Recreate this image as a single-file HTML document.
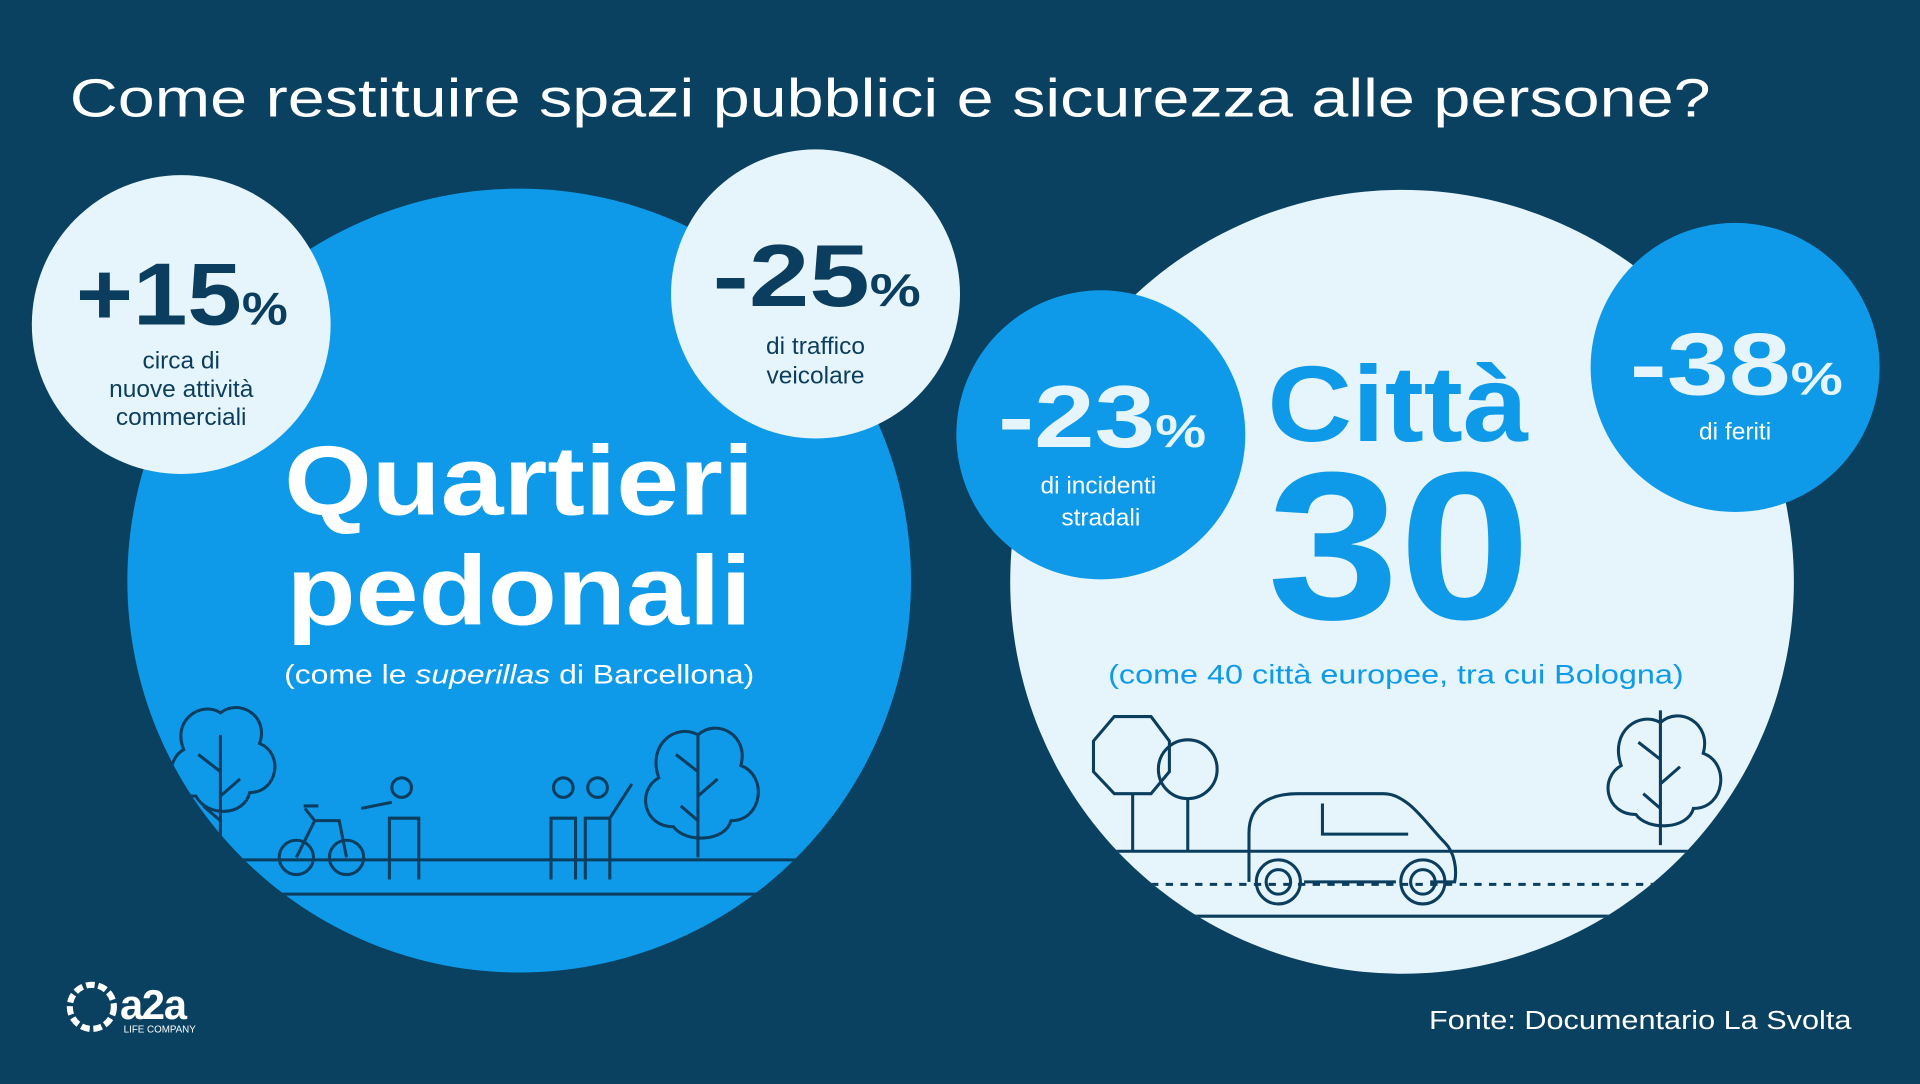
<!DOCTYPE html>
<html><head><meta charset="utf-8"><style>
html,body{margin:0;padding:0;background:#0a4060;}
svg{display:block;}
text{font-family:"Liberation Sans","DejaVu Sans",sans-serif;}
</style></head><body>
<svg width="1920" height="1084" viewBox="0 0 1568 885" preserveAspectRatio="none" xmlns="http://www.w3.org/2000/svg">
<defs>
<clipPath id="c1"><circle cx="424" cy="474" r="320"/></clipPath>
<clipPath id="c2"><circle cx="1145" cy="475" r="320"/></clipPath>
</defs>
<rect width="1568" height="885" fill="#0a4060"/>
<text x="57" y="95" font-size="44" fill="#fff" textLength="1340" lengthAdjust="spacingAndGlyphs">Come restituire spazi pubblici e sicurezza alle persone?</text>

<circle cx="424" cy="474" r="320" fill="#0e9ae9"/>
<g clip-path="url(#c1)" stroke="#0b3d5e" stroke-width="2.5" fill="none">
<line x1="100" y1="702" x2="750" y2="702"/>
<line x1="100" y1="730" x2="750" y2="730"/>
<path d="M180 700 V600 M180 630 l-18 -14 M180 650 l16 -14 M180 670 l-14 -12"/>
<path d="M160 650 c-25 0 -25 -30 -10 -38 c-10 -25 15 -40 30 -30 c15 -12 40 2 32 25 c20 8 15 40 -8 40 c-5 20 -35 20 -44 3z"/>
<path d="M570 700 V600 M570 630 l-18 -14 M570 650 l16 -14 M570 670 l-14 -12"/>
<path d="M550 675 c-25 0 -30 -30 -12 -40 c-10 -28 15 -45 32 -35 c15 -14 42 0 35 25 c22 8 18 45 -8 45 c-5 18 -38 18 -47 5z"/>
<circle cx="242" cy="700" r="14"/><circle cx="283" cy="700" r="14"/>
<path d="M242 700 l15 -30 h20 l6 30 M257 670 l-8 -10 M248 658 h12"/>
<circle cx="328" cy="643" r="8"/><path d="M318 718 v-50 h24 v50 M295 660 l25 -5"/>
<circle cx="460" cy="643" r="8"/><path d="M450 718 v-50 h20 v50"/>
<circle cx="488" cy="643" r="8"/><path d="M478 718 v-50 h20 v50 M498 668 l18 -28"/>
</g>
<text x="232" y="420" font-size="80" font-weight="bold" fill="#fff" textLength="384" lengthAdjust="spacingAndGlyphs">Quartieri</text>
<text x="234" y="510" font-size="80" font-weight="bold" fill="#fff" textLength="380" lengthAdjust="spacingAndGlyphs">pedonali</text>
<text x="232" y="558" font-size="22" fill="#fff" textLength="384" lengthAdjust="spacingAndGlyphs">(come le <tspan font-style="italic">superillas</tspan> di Barcellona)</text>

<circle cx="148" cy="265" r="122" fill="#e6f5fb"/>
<text x="62" y="265" font-size="72" font-weight="bold" fill="#0b3d5e" textLength="173" lengthAdjust="spacingAndGlyphs">+15<tspan font-size="38">%</tspan></text>
<g font-size="20" fill="#0b3d5e" text-anchor="middle">
<text x="148" y="301">circa di</text><text x="148" y="324">nuove attività</text><text x="148" y="347">commerciali</text></g>

<circle cx="666" cy="240" r="118" fill="#e6f5fb"/>
<text x="582" y="250" font-size="72" font-weight="bold" fill="#0b3d5e" textLength="170" lengthAdjust="spacingAndGlyphs">-25<tspan font-size="38">%</tspan></text>
<g font-size="20" fill="#0b3d5e" text-anchor="middle">
<text x="666" y="289">di traffico</text><text x="666" y="313">veicolare</text></g>

<circle cx="1145" cy="475" r="320" fill="#e6f5fb"/>
<g clip-path="url(#c2)" stroke="#0b3d5e" stroke-width="2.5" fill="none">
<line x1="820" y1="695" x2="1470" y2="695"/>
<line x1="820" y1="722" x2="1470" y2="722" stroke-dasharray="6 6"/>
<line x1="820" y1="748" x2="1470" y2="748"/>
<polygon points="910,585 940,585 955,605 955,630 940,648 910,648 893,630 893,605"/>
<line x1="925" y1="648" x2="925" y2="695"/>
<circle cx="970" cy="628" r="24"/><line x1="970" y1="652" x2="970" y2="695"/>
<path d="M1020 720 v-40 c0 -25 20 -32 40 -32 h70 c20 0 35 25 50 40 c8 8 10 22 8 32 h-20 M1065 720 h75 M1080 656 v25 h70"/>
<circle cx="1044" cy="720" r="18"/><circle cx="1044" cy="720" r="10"/>
<circle cx="1162" cy="720" r="18"/><circle cx="1162" cy="720" r="10"/>
<path d="M1356 690 V580 M1356 620 l-18 -14 M1356 640 l16 -14 M1356 660 l-14 -12"/>
<path d="M1336 665 c-25 0 -30 -30 -12 -40 c-10 -28 15 -45 32 -35 c15 -14 42 0 35 25 c22 8 18 45 -8 45 c-5 18 -38 18 -47 5z"/>
</g>
<text x="1035" y="360" font-size="88" font-weight="bold" fill="#0e9ae9" textLength="213" lengthAdjust="spacingAndGlyphs">Città</text>
<text x="1035" y="505" font-size="172" font-weight="bold" fill="#0e9ae9" textLength="215" lengthAdjust="spacingAndGlyphs">30</text>
<text x="905" y="558" font-size="22" fill="#0e9ae9" textLength="470" lengthAdjust="spacingAndGlyphs">(come 40 città europee, tra cui Bologna)</text>

<circle cx="899" cy="355" r="118" fill="#0e9ae9"/>
<text x="815" y="365" font-size="72" font-weight="bold" fill="#e6f5fb" textLength="170" lengthAdjust="spacingAndGlyphs">-23<tspan font-size="38">%</tspan></text>
<g font-size="20" fill="#fff" text-anchor="middle">
<text x="897" y="403">di incidenti</text><text x="899" y="429">stradali</text></g>

<circle cx="1417" cy="300" r="118" fill="#0e9ae9"/>
<text x="1331" y="322" font-size="72" font-weight="bold" fill="#e6f5fb" textLength="174" lengthAdjust="spacingAndGlyphs">-38<tspan font-size="38">%</tspan></text>
<text x="1417" y="359" font-size="20" fill="#fff" text-anchor="middle">di feriti</text>

<circle cx="75" cy="822" r="18" fill="none" stroke="#fff" stroke-width="5" stroke-dasharray="7 3"/>
<text x="98" y="832" font-size="34" font-weight="bold" fill="#fff" letter-spacing="-1">a2a</text>
<text x="101" y="843" font-size="8" fill="#fff">LIFE COMPANY</text>

<text x="1167" y="840" font-size="21" fill="#fff" textLength="345" lengthAdjust="spacingAndGlyphs">Fonte: Documentario La Svolta</text>
</svg>
</body></html>
